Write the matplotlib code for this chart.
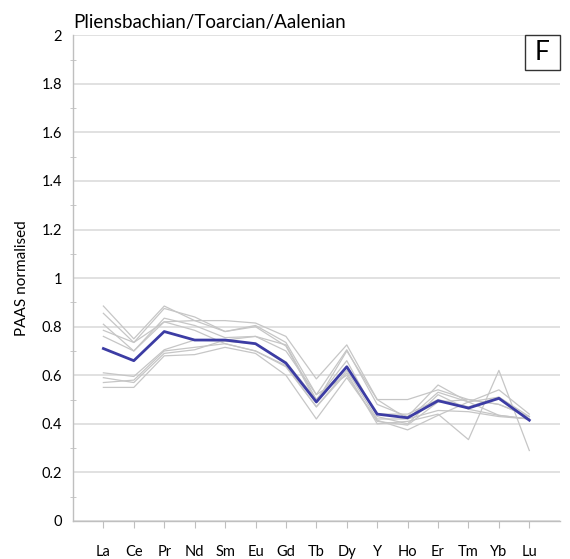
import numpy as np
import matplotlib
matplotlib.use("Agg")
import matplotlib.pyplot as plt
from matplotlib.patches import Rectangle
from matplotlib.ticker import MultipleLocator

plt.rcParams['font.family'] = ['Lato', 'DejaVu Sans']

elements = ["La", "Ce", "Pr", "Nd", "Sm", "Eu", "Gd", "Tb", "Dy", "Y",
            "Ho", "Er", "Tm", "Yb", "Lu"]

# individual samples (PAAS normalised)
s1 = [0.885, 0.75, 0.885, 0.825, 0.825, 0.815, 0.76, 0.585, 0.725, 0.50, 0.50, 0.54, 0.50, 0.48, 0.43]
s2 = [0.855, 0.735, 0.875, 0.84, 0.78, 0.805, 0.735, 0.52, 0.705, 0.48, 0.43, 0.56, 0.49, 0.51, 0.43]
s3 = [0.81, 0.70, 0.835, 0.805, 0.755, 0.76, 0.725, 0.50, 0.66, 0.43, 0.40, 0.52, 0.46, 0.435, 0.42]
s4 = [0.76, 0.70, 0.82, 0.785, 0.73, 0.70, 0.64, 0.47, 0.62, 0.42, 0.42, 0.455, 0.45, 0.43, 0.42]
s5 = [0.61, 0.595, 0.705, 0.745, 0.74, 0.73, 0.655, 0.50, 0.635, 0.44, 0.44, 0.50, 0.47, 0.51, 0.42]
s6 = [0.59, 0.57, 0.69, 0.705, 0.745, 0.76, 0.70, 0.52, 0.60, 0.41, 0.395, 0.49, 0.50, 0.48, 0.43]
s7 = [0.55, 0.55, 0.68, 0.685, 0.715, 0.69, 0.60, 0.42, 0.59, 0.415, 0.375, 0.435, 0.49, 0.435, 0.42]
s8 = [0.57, 0.58, 0.70, 0.715, 0.73, 0.70, 0.635, 0.47, 0.61, 0.40, 0.41, 0.44, 0.335, 0.62, 0.29]
s9 = [0.785, 0.735, 0.82, 0.825, 0.78, 0.80, 0.72, 0.49, 0.70, 0.50, 0.42, 0.53, 0.49, 0.54, 0.44]
samples = [s1, s2, s3, s4, s5, s6, s7, s8, s9]

# average profile
mean = [0.71, 0.66, 0.78, 0.745, 0.745, 0.73, 0.65, 0.49, 0.635, 0.44, 0.425, 0.495, 0.465, 0.505, 0.415]

x = np.arange(1, len(elements) + 1)

fig = plt.figure(figsize=(5.7, 5.59), dpi=100)
ax = fig.add_axes([0.128, 0.068, 0.854, 0.869])

for s in samples:
    ax.plot(x, s, color="#c6c6c6", lw=0.9, zorder=2)
ax.plot(x, mean, color="#3c3ca4", lw=2.0, zorder=3)

ax.set_xlim(0, 16)
ax.set_ylim(0, 2)
ax.set_xticks(x)
ax.set_xticklabels(elements, fontsize=10.5)
ax.yaxis.set_major_locator(MultipleLocator(0.2))
ax.yaxis.set_minor_locator(MultipleLocator(0.1))
ax.set_yticklabels([f"{v:g}" for v in np.round(ax.get_yticks(), 1)], fontsize=10.5)
ax.grid(axis="y", color="#dcdcdc", lw=1.2, zorder=0)
ax.set_axisbelow(True)

for side in ["top", "right"]:
    ax.spines[side].set_visible(False)
for side in ["left", "bottom"]:
    ax.spines[side].set_color("#bfbfbf")
    ax.spines[side].set_linewidth(1.0)

ax.tick_params(axis="x", direction="out", length=5, color="#bfbfbf", pad=12)
ax.tick_params(axis="y", which="major", length=0, pad=8)
ax.tick_params(axis="y", which="minor", direction="inout", length=5, color="#bfbfbf")

ax.set_ylabel("PAAS normalised", fontsize=11, labelpad=9)
ax.set_title("Pliensbachian/Toarcian/Aalenian", loc="left", fontsize=13.5, pad=5)

# panel letter in a square box at the top right corner
bw, bh = 0.071, 0.071
ax.add_patch(Rectangle((1 - bw, 1 - bh), bw, bh, transform=ax.transAxes,
                       fc="white", ec="#333333", lw=1.0, clip_on=False, zorder=5))
ax.text(1 - bw / 2, 1 - bh / 2, "F", transform=ax.transAxes, ha="center", va="center",
        fontsize=19, zorder=6)

fig.savefig("out.png", dpi=100)
